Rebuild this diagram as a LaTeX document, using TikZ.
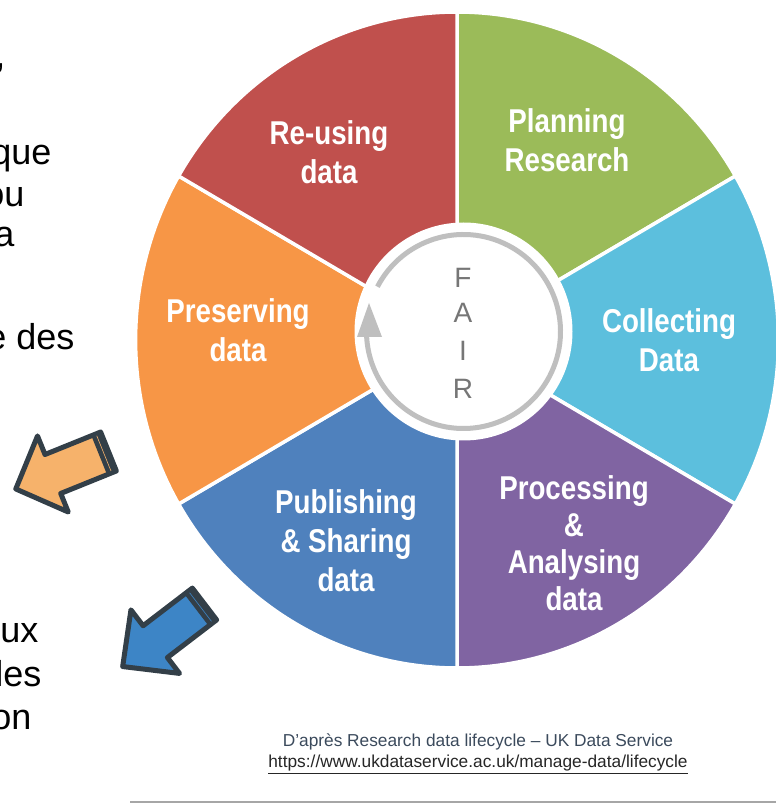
\documentclass[tikz,border=0pt]{standalone}
\usepackage{fontspec}
\setmainfont{Liberation Sans}
\newfontfamily\wheelfont[FakeStretch=0.84]{Liberation Sans}
\usetikzlibrary{positioning}

\definecolor{reusered}{HTML}{C0504D}
\definecolor{plangreen}{HTML}{9BBB59}
\definecolor{collectcyan}{HTML}{5CBFDD}
\definecolor{processpurple}{HTML}{8064A2}
\definecolor{publishblue}{HTML}{4F81BD}
\definecolor{preserveorange}{HTML}{F79646}
\definecolor{ringgray}{HTML}{BFBFBF}
\definecolor{fairgray}{HTML}{767676}
\definecolor{arrowdark}{HTML}{333F48}
\definecolor{paleorange}{HTML}{F6B26B}
\definecolor{deepblue}{HTML}{3D85C6}
\definecolor{creditblue}{HTML}{3B4A5C}

\begin{document}
\begin{tikzpicture}[x=1pt, y=1pt,
  sector/.style = {draw=white, line width=3.5pt},
  phase/.style = {text=white, align=center, font=\wheelfont\bfseries\fontsize{33}{39}\selectfont},
  letter/.style = {text=fairgray, font=\fontsize{28}{28}\selectfont},
  side/.style = {anchor=base east, font=\fontsize{36}{36}\selectfont},
  outline/.style = {draw=arrowdark, line width=5pt, line join=round},
  source/.style = {font=\fontsize{17.3}{20}\selectfont}]

  \useasboundingbox (0,0) rectangle (776,804);
  \clip (0,0) rectangle (776,804);

  % Centres of the wheel and of the FAIR disc
  \coordinate (hub) at (457,464);
  \coordinate (core) at (463.5,472.5);

  % Sectors, clockwise from the top
  \begin{scope}[shift={(hub)}, xscale=0.98]
    \filldraw[sector, fill=plangreen] (0,0) -- (90:328) arc[start angle=90, end angle=30, radius=328] -- cycle;
    \filldraw[sector, fill=collectcyan] (0,0) -- (30:328) arc[start angle=30, end angle=-30, radius=328] -- cycle;
    \filldraw[sector, fill=processpurple] (0,0) -- (-30:328) arc[start angle=-30, end angle=-90, radius=328] -- cycle;
    \filldraw[sector, fill=publishblue] (0,0) -- (-90:328) arc[start angle=-90, end angle=-150, radius=328] -- cycle;
    \filldraw[sector, fill=preserveorange] (0,0) -- (210:328) arc[start angle=210, end angle=150, radius=328] -- cycle;
    \filldraw[sector, fill=reusered] (0,0) -- (150:328) arc[start angle=150, end angle=90, radius=328] -- cycle;
  \end{scope}

  % Sector labels
  \node[phase] (plan) at (567,664) {Planning\\Research};
  \node[phase] (collect) at (669,464) {Collecting\\Data};
  \node[phase, font=\wheelfont\bfseries\fontsize{33}{37}\selectfont] (process) at (574,261) {Processing\\\&\\Analysing\\data};
  \node[phase] (publish) at (346,263) {Publishing\\\& Sharing\\data};
  \node[phase] (preserve) at (238,474) {Preserving\\data};
  \node[phase] (reuse) at (329,652) {Re-using\\data};

  % FAIR disc with its cycle arrow
  \fill[white] (core) circle[radius=109];
  \draw[ringgray, line width=5pt] (core) ++(152.5:97) arc[start angle=152.5, end angle=-177, radius=97];
  \coordinate (tip) at (369,501);
  \fill[ringgray] (tip) -- (357,467) -- (382,467) -- cycle;

  \node[letter] (f) at (463,526) {F};
  \node[letter] (a) at (463,491) {A};
  \node[letter] (i) at (463,453) {I};
  \node[letter] (r) at (463,415) {R};

  % Text cut off at the left edge
  \node[side] (t1) at (9,736) {t,};
  \node[side] (t2) at (55,639) {que};
  \node[side] (t3) at (28,597) {ou};
  \node[side] (t4) at (18,557) {a};
  \node[side] (t5) at (78,454) {e des};
  \node[side] (t6) at (42,161) {ux};
  \node[side] (t7) at (45,117) {les};
  \node[side] (t8) at (35,74) {on};

  % Orange block arrow
  \begin{scope}[shift={(108.5,352.5)}, rotate=202]
    \filldraw[outline, fill=paleorange] (0,-21) -- (60,-21) -- (60,-41) -- (100,0) -- (60,41) -- (60,21) -- (0,21) -- cycle;
    \fill[arrowdark] (0,-21) rectangle (10,21);
    \draw[paleorange, line width=0.6pt] (5,-19) -- (5,19);
  \end{scope}

  % Blue block arrow
  \begin{scope}[shift={(204.5,200)}, rotate=217.4]
    \filldraw[outline, fill=deepblue] (0,-20) -- (62,-20) -- (62,-40) -- (103,0) -- (62,40) -- (62,20) -- (0,20) -- cycle;
    \fill[arrowdark] (0,-20) rectangle (10,20);
    \draw[deepblue, line width=0.6pt] (5,-18) -- (5,18);
  \end{scope}

  % Source
  \node[source, text=creditblue] (credit) at (478,62) {D’après Research data lifecycle – UK Data Service};
  \node[source, text=black!85, below=-2pt of credit] (url) {\underline{https://www.ukdataservice.ac.uk/manage-data/lifecycle}};

  % Rule at the bottom
  \coordinate (rulestart) at (130,1.5);
  \coordinate (ruleend) at (776,1.5);
  \draw[black!35, line width=2pt] (rulestart) -- (ruleend);
\end{tikzpicture}
\end{document}
